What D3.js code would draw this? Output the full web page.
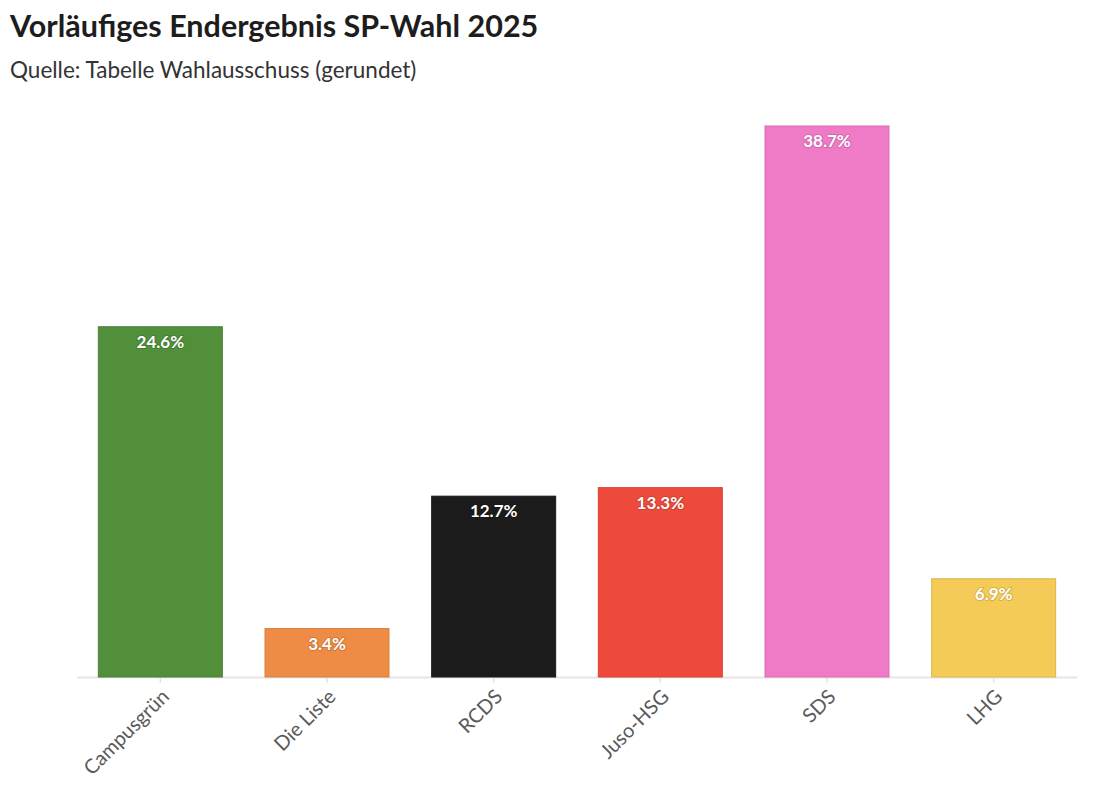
<!DOCTYPE html>
<html>
<head>
<meta charset="utf-8">
<script src="https://cdn.jsdelivr.net/npm/d3@7"></script>
<style>
	body { margin: 0; background: #fff; font-family: Lato, "Noto Sans", sans-serif; }
</style>
</head>
<body>
<div id="vis"></div>
<script>
var parties = ["Campusgrün", "Die Liste", "RCDS", "Juso-HSG", "SDS", "LHG"];
var shares = [24.6, 3.4, 12.7, 13.3, 38.7, 6.9];
var colours = ["#518f3b", "#ee8c45", "#1b1b1b", "#ee4a3b", "#ef7ac6", "#f4cb57"];

var w = 1100, h = 792;

var svg = d3.select("#vis").append("svg")
	.attr("width", w)
	.attr("height", h);

svg.append("text")
	.attr("x", 10)
	.attr("y", 37)
	.attr("font-size", 30.5)
	.attr("font-weight", "bold")
	.attr("fill", "#1d1d1d")
	.text("Vorläufiges Endergebnis SP-Wahl 2025");

svg.append("text")
	.attr("x", 10)
	.attr("y", 78)
	.attr("font-size", 22.5)
	.attr("fill", "#333")
	.text("Quelle: Tabelle Wahlausschuss (gerundet)");

var data = parties.map(function (d, i) {
	return { party: d, value: shares[i], colour: colours[i] };
});

var x = d3.scaleBand()
	.domain(parties)
	.range([77, 1077])
	.paddingInner(0.256)
	.paddingOuter(0.128);

var y = d3.scaleLinear()
	.domain([0, d3.max(shares)])
	.range([677, 126]);

//axis first so bars sit over the line
var axis = svg.append("g")
	.attr("transform", "translate(0," + y(0) + ")")
	.call(d3.axisBottom(x).tickSize(6).tickPadding(10).tickSizeOuter(0));

axis.select(".domain").attr("stroke", "#e6e6e6").attr("stroke-width", 2);
axis.selectAll(".tick line").attr("stroke", "#e3e3e3").attr("stroke-width", 1.5);
axis.selectAll(".tick text")
	.attr("font-family", "Lato, 'Noto Sans', sans-serif")
	.attr("font-size", 20)
	.attr("fill", "#5a5a5a")
	.attr("text-anchor", "end")
	.attr("x", 0)
	.attr("y", 0)
	.attr("dy", "0.35em")
	.attr("transform", "translate(5,16) rotate(-45)");

var bars = svg.append("g").selectAll("rect")
	.data(data)
	.enter()
	.append("rect")
	.attr("x", function (d) { return x(d.party); })
	.attr("y", function (d) { return y(d.value); })
	.attr("width", x.bandwidth())
	.attr("height", function (d) { return y(0) - y(d.value); })
	.attr("fill", function (d) { return d.colour; })
	.attr("stroke", function (d) { return d3.color(d.colour).darker(0.3); })
	.attr("stroke-width", 1);

var labels = svg.append("g").selectAll("text")
	.data(data)
	.enter()
	.append("text")
	.attr("x", function (d) { return x(d.party) + x.bandwidth() / 2; })
	.attr("y", function (d) { return y(d.value) + 21; })
	.attr("text-anchor", "middle")
	.attr("font-size", 17)
	.attr("font-weight", "bold")
	.attr("fill", "#fff")
	.attr("stroke", function (d) { return d3.color(d.colour).darker(0.4); })
	.attr("stroke-width", 2)
	.attr("paint-order", "stroke")
	.attr("stroke-linejoin", "round")
	.text(function (d) { return d.value.toFixed(1) + "%"; });
</script>
</body>
</html>
